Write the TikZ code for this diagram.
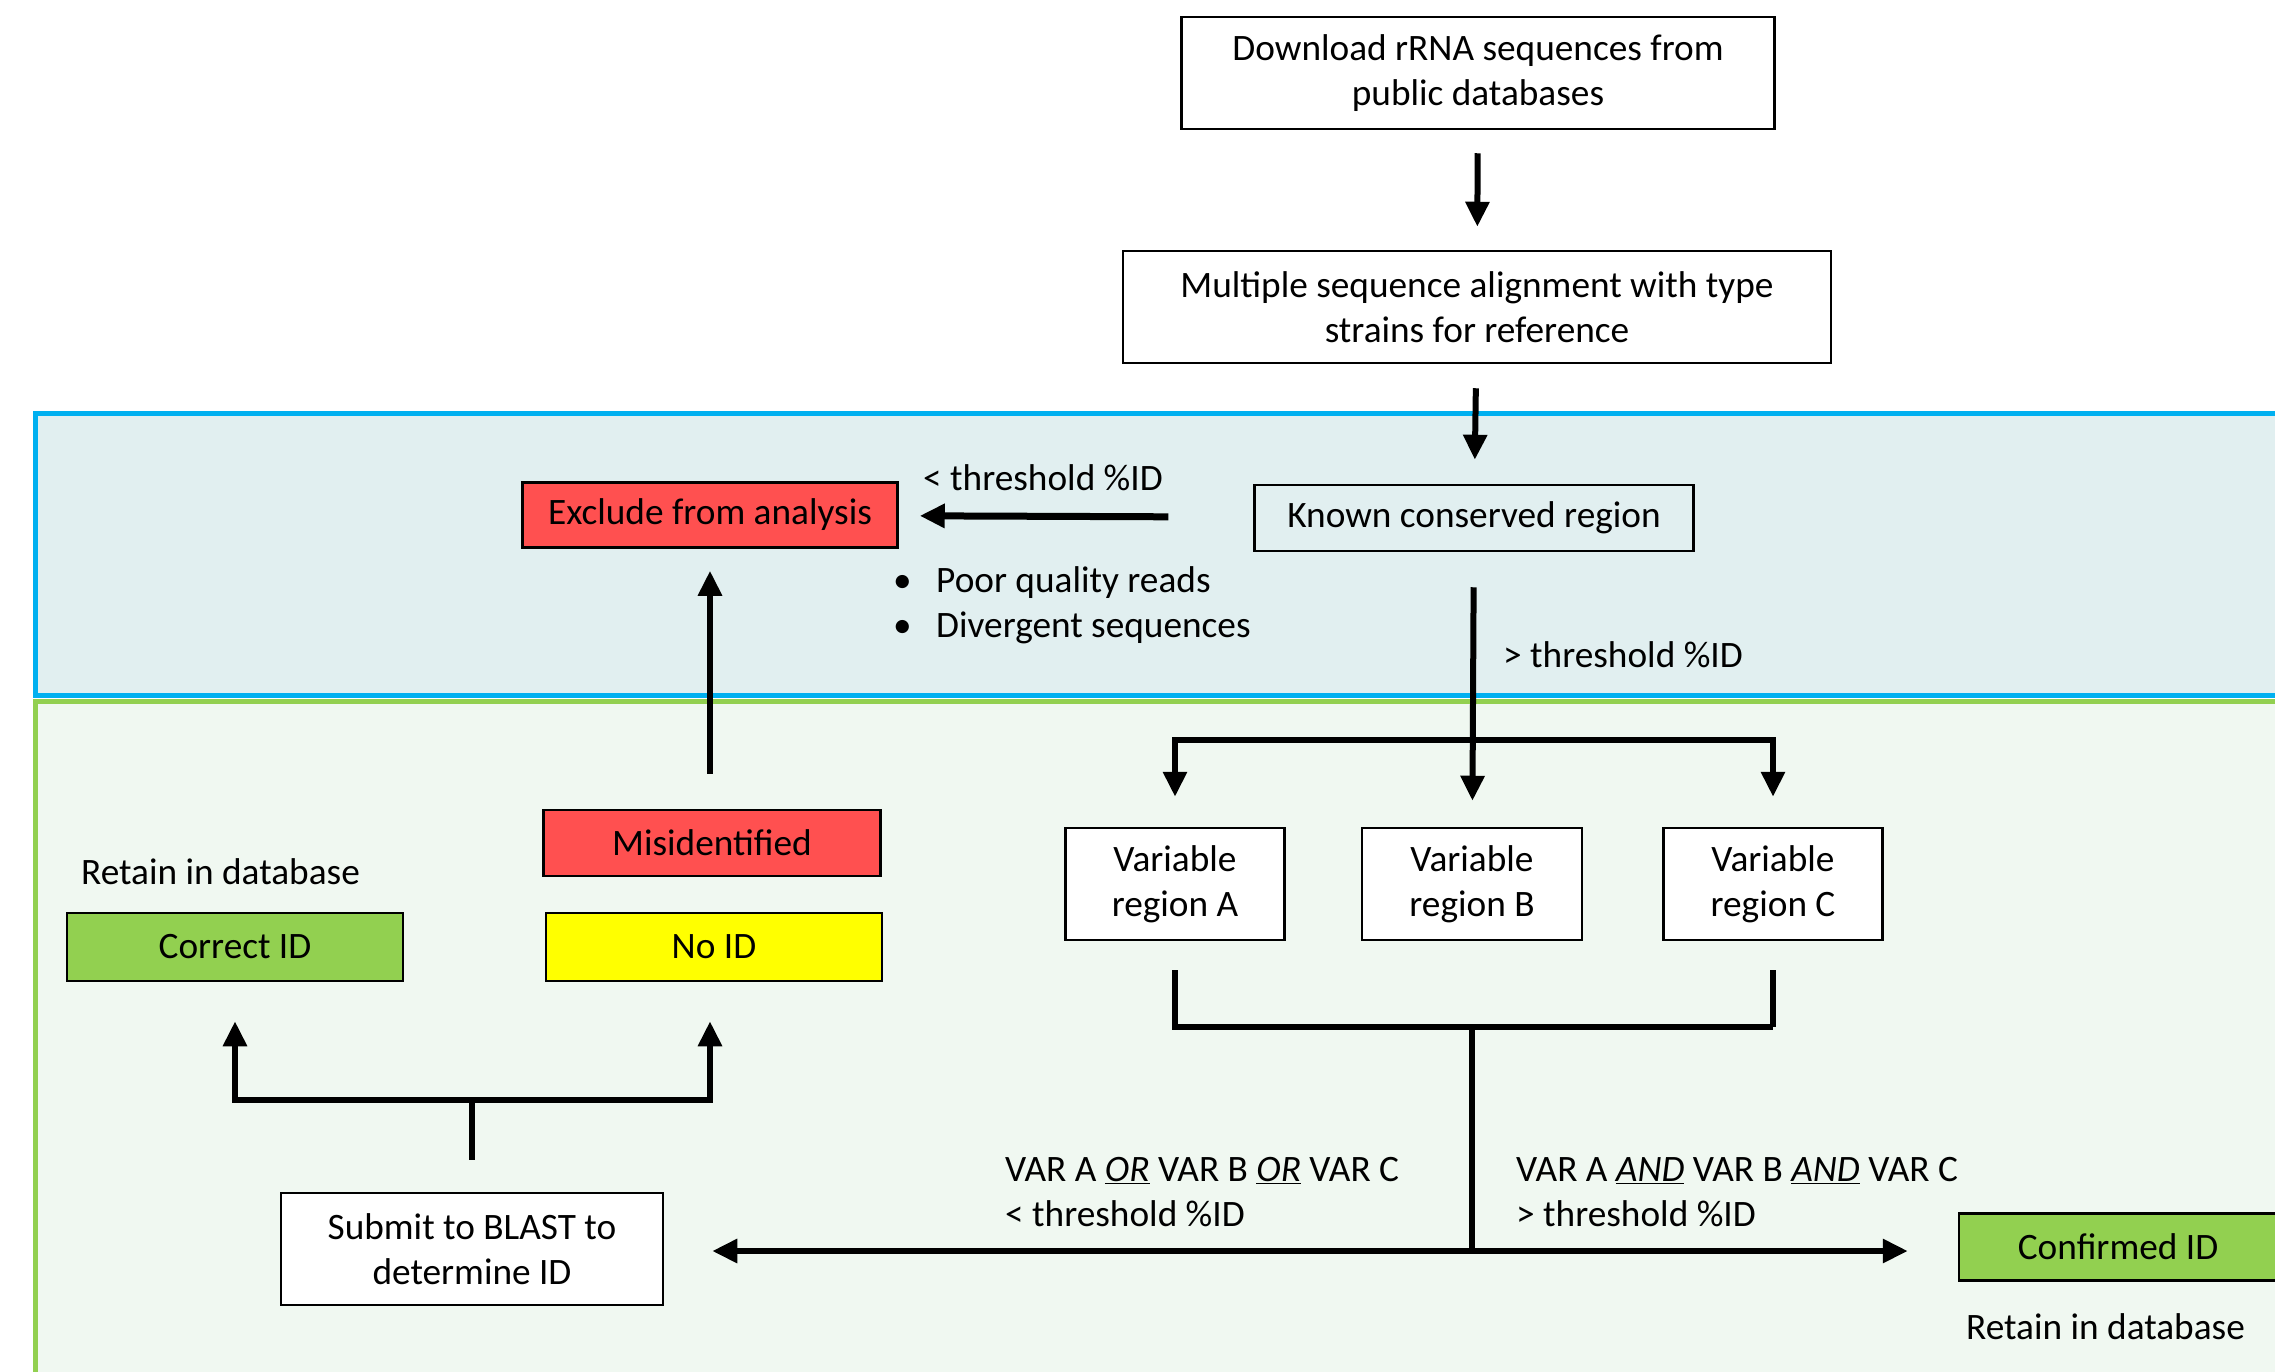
\documentclass[tikz,border=0pt]{standalone}
\usepackage{fontspec}
\setmainfont{Carlito}
\usetikzlibrary{arrows.meta,calc}
\definecolor{bandblue}{HTML}{00B0F0}
\definecolor{bandbluefill}{HTML}{E1EFF0}
\definecolor{bandgreen}{HTML}{92D050}
\definecolor{bandgreenfill}{HTML}{F0F8F1}
\definecolor{boxred}{HTML}{FF5050}
\definecolor{boxgreen}{HTML}{92D050}
\definecolor{boxyellow}{HTML}{FFFF00}
\tikzset{
  every node/.style={font=\fontsize{37.3}{45}\selectfont},
  stepbox/.style={draw=black, line width=2.5pt, fill=white, align=center, inner sep=0pt},
  colbox/.style={draw=black, line width=2.5pt, align=center, inner sep=0pt},
  lbl/.style={anchor=west, inner sep=0pt, align=left},
  conn/.style={line width=6pt},
  arr/.style={line width=6pt, -{Triangle[length=25pt,width=23pt]}},
}
\begin{document}
\begin{tikzpicture}[x=1pt,y=-1pt]
\useasboundingbox (0,0) rectangle (2275,1371);
% bands
\draw[bandblue, fill=bandbluefill, line width=5pt] (35,413) rectangle (2320,695);
\draw[bandgreen, fill=bandgreenfill, line width=5pt] (35,701) rectangle (2320,1420);

% nodes
\node[stepbox, minimum width=593pt, minimum height=112pt] (dl) at (1478,73) {Download rRNA sequences from\\public databases};
\node[stepbox, minimum width=708pt, minimum height=112pt] (msa) at (1477,307) {Multiple sequence alignment with type\\strains for reference};
\node[colbox, fill=bandbluefill, minimum width=439pt, minimum height=66pt] (kcr) at (1474,518) {\raisebox{-2pt}{Known conserved region}};
\node[colbox, fill=boxred, minimum width=375pt, minimum height=65pt] (exc) at (710,515) {Exclude from analysis};
\node[stepbox, minimum width=219pt, minimum height=112pt] (varA) at (1175,884) {Variable\\region A};
\node[stepbox, minimum width=220pt, minimum height=112pt] (varB) at (1472,884) {Variable\\region B};
\node[stepbox, minimum width=219pt, minimum height=112pt] (varC) at (1773,884) {Variable\\region C};
\node[colbox, fill=boxgreen, minimum width=318pt, minimum height=67pt] (conf) at (2118,1247) {Confirmed ID};
\node[stepbox, minimum width=382pt, minimum height=112pt] (blast) at (472,1249) {Submit to BLAST to\\determine ID};
\node[colbox, fill=boxgreen, minimum width=336pt, minimum height=68pt] (corr) at (235,947) {Correct ID};
\node[colbox, fill=boxyellow, minimum width=336pt, minimum height=68pt] (noid) at (714,947) {No ID};
\node[colbox, fill=boxred, minimum width=337pt, minimum height=66pt] (mis) at (712,843) {Misidentified};

% labels
\node[lbl] (lt1) at (923,478) {< threshold \%ID};
\node[lbl] (b1) at (893,583) {\makebox[43pt][l]{\textbullet}Poor quality reads};
\node[lbl] (b2) at (893,628) {\makebox[43pt][l]{\textbullet}Divergent sequences};
\node[lbl] (gt1) at (1503,655) {> threshold \%ID};
\node[lbl] (orl) at (1005,1192) {VAR A \underline{\textit{OR}} VAR B \underline{\textit{OR}} VAR C\\< threshold \%ID};
\node[lbl] (andl) at (1516,1192) {VAR A \underline{\textit{AND}} VAR B \underline{\textit{AND}} VAR C\\> threshold \%ID};
\node[lbl] (ret1) at (81,872) {Retain in database};
\node[lbl] (ret2) at (1966,1327) {Retain in database};

% connectors top
\draw[arr, shorten <=23pt, shorten >=23pt] (dl) -- (msa);
\draw[arr, shorten <=24pt, shorten >=24pt] (msa) -- (kcr);
\draw[arr, line width=7pt, shorten <=85pt, shorten >=21pt] (kcr) -- (exc);
\draw[arr, shorten <=35pt, shorten >=26pt] (kcr) -- (varB);

% branch to variable regions
\coordinate (brA) at (varA.north |- 0,740);
\coordinate (brC) at (varC.north |- 0,740);
\draw[conn, line cap=rect] (brA) -- (brC);
\draw[arr, shorten >=30pt] (brA) -- (varA.north);
\draw[arr, shorten >=30pt] (brC) -- (varC.north);

% bracket below variable regions
\coordinate (bkA) at (varA.south |- 0,1027);
\coordinate (bkC) at (varC.south |- 0,1027);
\coordinate (mid) at (varB.south |- 0,1027);
\coordinate (hub) at (varB.south |- 0,1251);
\draw[conn, shorten <=29pt] (varA.south) -- (bkA) -- (bkC);
\draw[conn, shorten <=29pt] (varC.south) -- (bkC);
\draw[conn] (mid) -- (hub);
\draw[arr, shorten >=48pt] (hub) -- (blast.east |- hub);
\draw[arr, shorten >=50pt] (hub) -- (conf.west |- hub);

% BLAST outcomes
\coordinate (bl1) at (blast.north |- 0,1100);
\coordinate (blL) at (corr.south |- 0,1100);
\coordinate (blR) at (exc.south |- 0,1100);
\draw[conn, shorten <=32pt] (blast.north) -- (bl1);
\draw[conn, line cap=rect] (blL) -- (blR);
\draw[arr, shorten >=39pt] (blL) -- (corr.south);
\draw[arr, shorten >=39pt] (blR) -- (exc.south |- noid.south);
\draw[arr, shorten <=35pt, shorten >=22pt] (mis.north -| exc.south) -- (exc.south);
\end{tikzpicture}
\end{document}
